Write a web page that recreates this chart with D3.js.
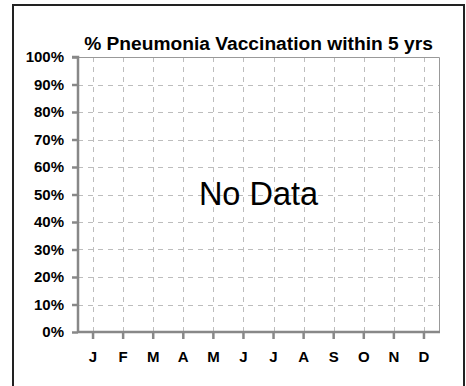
<!DOCTYPE html>
<html>
<head>
<meta charset="utf-8">
<script src="https://cdn.jsdelivr.net/npm/d3@7"></script>
<style>
  html, body { margin: 0; padding: 0; background: #fff; }
  svg { display: block; font-family: "Liberation Sans", Arial, sans-serif; }
</style>
</head>
<body>
<svg id="chart" width="466" height="386"></svg>
<script>
// Chart content
const chartTitle = "% Pneumonia Vaccination within 5 yrs";
const months = ["J", "F", "M", "A", "M", "J", "J", "A", "S", "O", "N", "D"];
const monthKeys = months.map((m, i) => i);
const yTicks = [0, 10, 20, 30, 40, 50, 60, 70, 80, 90, 100];
const values = []; // no observations for this period
const emptyMessage = "No Data";

const svg = d3.select("#chart");
const margin = { left: 78, right: 27, top: 57, bottom: 54 };
const W = 466, H = 386;
const x0 = margin.left, x1 = W - margin.right;
const y0 = H - margin.bottom, y1 = margin.top;

// Outer frame
svg.append("rect")
  .attr("x", 13).attr("y", 5)
  .attr("width", 451).attr("height", 400)
  .attr("fill", "none")
  .attr("stroke", "#222")
  .attr("stroke-width", 2);

const x = d3.scaleBand().domain(monthKeys).range([x0, x1]);
const y = d3.scaleLinear().domain([0, 100]).range([y0, y1]);

// Grid
const grid = svg.append("g").attr("stroke", "#bdbdbd").attr("stroke-width", 1)
  .attr("stroke-dasharray", "5,5");
grid.selectAll("line.h").data(yTicks.filter(t => t > 0 && t < 100)).join("line")
  .attr("x1", x0).attr("x2", x1)
  .attr("y1", d => Math.round(y(d)) + 0.5).attr("y2", d => Math.round(y(d)) + 0.5);
grid.selectAll("line.v").data(monthKeys).join("line")
  .attr("x1", d => Math.round(x(d) + x.bandwidth() / 2) + 0.5)
  .attr("x2", d => Math.round(x(d) + x.bandwidth() / 2) + 0.5)
  .attr("y1", y1).attr("y2", y0);

// Plot frame top/right
svg.append("path")
  .attr("d", `M${x0},${y1 + 0.5}H${x1 + 0.5}V${y0}`)
  .attr("fill", "none").attr("stroke", "#999").attr("stroke-width", 1);

// Axes
const yAxis = d3.axisLeft(y).tickValues(yTicks).tickFormat(d => d + "%")
  .tickSize(6).tickPadding(8);
const gy = svg.append("g").attr("transform", `translate(${x0},0)`).call(yAxis);
const xAxis = d3.axisBottom(x).tickFormat(i => months[i]).tickSize(7).tickPadding(12);
const gx = svg.append("g").attr("transform", `translate(0,${y0})`).call(xAxis);

[gy, gx].forEach(g => {
  g.select(".domain").attr("stroke", "#888").attr("stroke-width", 2.5);
  g.selectAll(".tick line").attr("stroke", "#888").attr("stroke-width", 2.5);
  g.selectAll(".tick text")
    .attr("fill", "#000")
    .style("font-family", "'Liberation Sans', Arial, sans-serif")
    .style("font-size", "15px")
    .style("font-weight", "bold");
});
gy.select(".domain").attr("d", `M-6,${y1}H0V${y0}`);
gx.select(".domain").attr("d", `M${x0},0H${x1 + 1}`);

// Title
svg.append("text")
  .attr("x", (x0 + x1) / 2).attr("y", 50)
  .attr("text-anchor", "middle")
  .style("font-size", "19.2px").style("font-weight", "bold")
  .text(chartTitle);

// Data marks (none) and empty-state message
svg.append("g").selectAll("rect").data(values).join("rect")
  .attr("x", (d, i) => x(i)).attr("width", x.bandwidth())
  .attr("y", d => y(d)).attr("height", d => y0 - y(d));

if (values.length === 0) {
  svg.append("text")
    .attr("x", (x0 + x1) / 2).attr("y", 205)
    .attr("text-anchor", "middle")
    .style("font-size", "32.5px")
    .text(emptyMessage);
}
</script>
</body>
</html>
